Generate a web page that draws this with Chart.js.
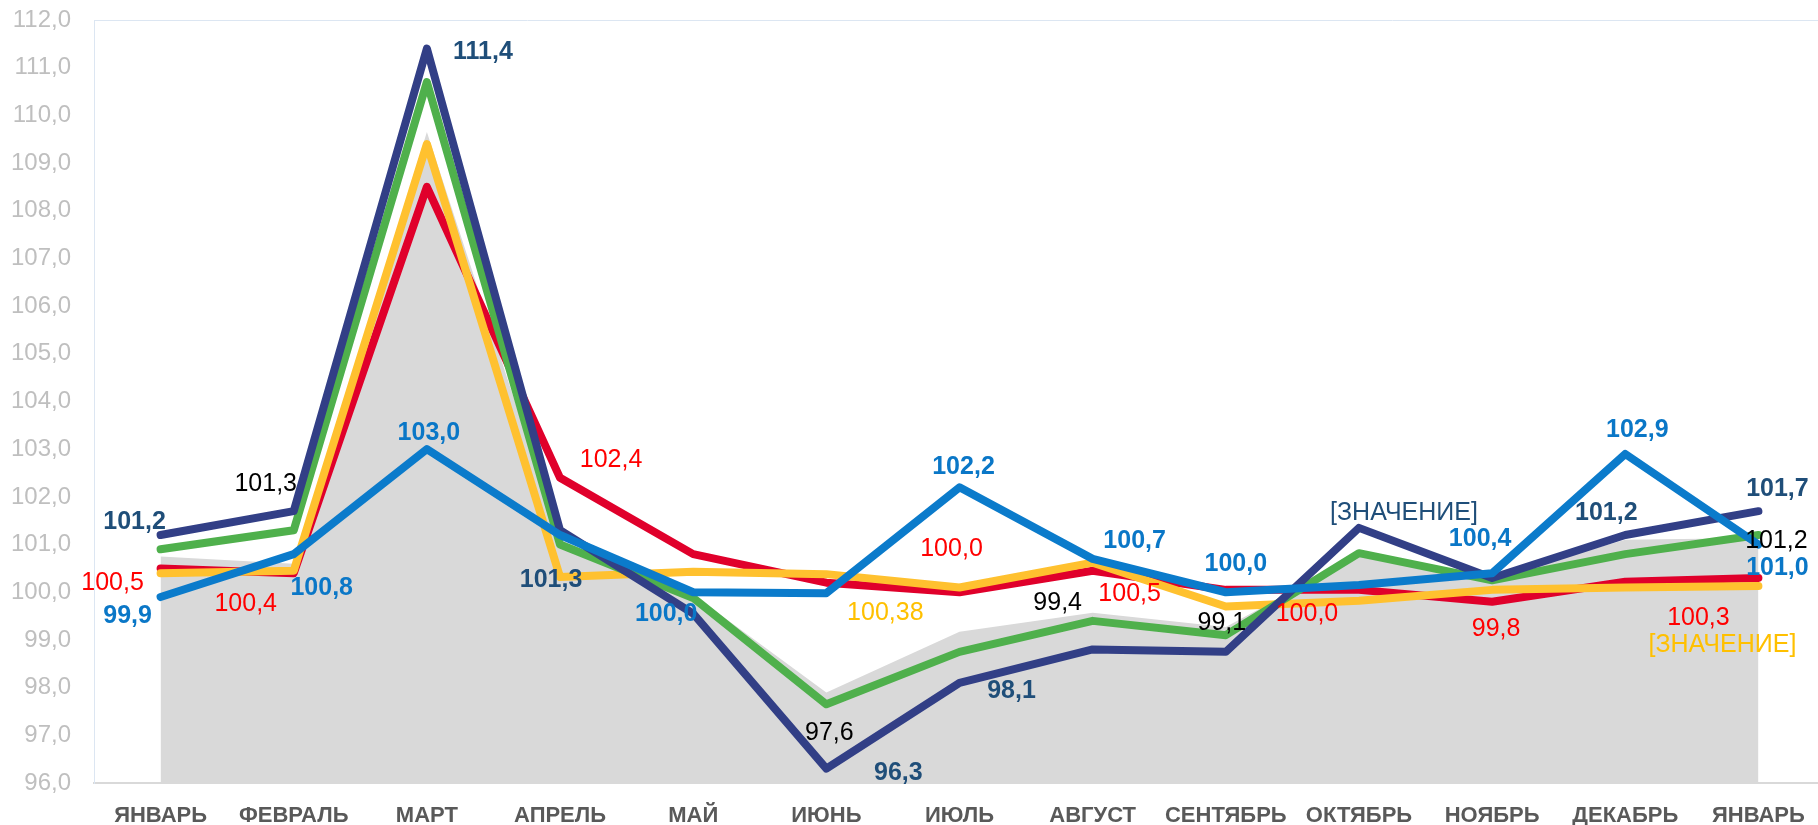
<!DOCTYPE html>
<html><head><meta charset="utf-8">
<script src="https://cdn.jsdelivr.net/npm/chart.js@4/dist/chart.umd.min.js"></script>
<style>html,body{margin:0;padding:0;overflow:hidden;background:#fff;width:1818px;height:825px}canvas{display:block}</style>
</head><body><canvas id="c" width="1825" height="825"></canvas>
<script>
// ---- data ----
const categories = ['ЯНВАРЬ','ФЕВРАЛЬ','МАРТ','АПРЕЛЬ','МАЙ','ИЮНЬ','ИЮЛЬ','АВГУСТ','СЕНТЯБРЬ','ОКТЯБРЬ','НОЯБРЬ','ДЕКАБРЬ','ЯНВАРЬ'];
const areaValues   = [100.75, 100.6, 109.65, 101.1, 99.95, 97.9, 99.17, 99.57, 99.27, 100.78, 100.3, 101.1, 101.14];
const navyValues   = [101.2, 101.7, 111.4, 101.3, 99.55, 96.3, 98.1, 98.8, 98.75, 101.35, 100.3, 101.2, 101.7];
const greenValues  = [100.9, 101.3, 110.7, 101.0, 99.88, 97.65, 98.75, 99.4, 99.1, 100.82, 100.25, 100.8, 101.2];
const redValues    = [100.5, 100.4, 108.5, 102.4, 100.8, 100.2, 100.0, 100.45, 100.05, 100.05, 99.8, 100.22, 100.3];
const yellowValues = [100.4, 100.45, 109.4, 100.32, 100.43, 100.38, 100.1, 100.62, 99.7, 99.82, 100.05, 100.1, 100.13];
const blueValues   = [99.9, 100.8, 103.0, 101.2, 100.0, 99.98, 102.2, 100.7, 100.0, 100.15, 100.4, 102.9, 101.0];

const navyLabels   = ['101,2', null, '111,4', '101,3', null, '96,3', '98,1', null, null, '[ЗНАЧЕНИЕ]', null, '101,2', '101,7'];
const greenLabels  = [null, '101,3', null, null, null, '97,6', null, '99,4', '99,1', null, null, null, '101,2'];
const redLabels    = ['100,5', '100,4', null, '102,4', null, null, '100,0', '100,5', null, '100,0', '99,8', null, '100,3'];
const yellowLabels = [null, null, null, null, null, '100,38', null, null, null, null, null, null, '[ЗНАЧЕНИЕ]'];
const blueLabels   = ['99,9', '100,8', '103,0', null, '100,0', null, '102,2', '100,7', '100,0', null, '100,4', '102,9', '101,0'];

const yMin = 96, yMax = 112, yStep = 1;

// ---- label placement / styles (not data) ----
const FONT = "'Liberation Sans', Arial, sans-serif";
const labelStyle = {
  navy:   {color:'#1F4E79', weight:'bold', offsets:{0:[-26,-15],2:[56,1],3:[-9,48],5:[72,2],6:[52,6],9:[45,-17,'normal'],11:[-19,-24],12:[19,-24]}},
  green:  {color:'#000000', weight:'normal', offsets:{1:[-28,-48],5:[3,27],7:[-35,-20],8:[-4,-14],12:[18,4]}},
  red:    {color:'#FF0000', weight:'normal', offsets:{0:[-48,13],1:[-48,29],3:[51,-20],6:[-8,-45],7:[37,21],9:[-52,22],10:[4,25],12:[-60,38]}},
  yellow: {color:'#FFC000', weight:'normal', offsets:{5:[59,37],12:[-36,57]}},
  blue:   {color:'#0A77C7', weight:'bold', offsets:{0:[-33,17],1:[28,32],2:[2,-18],4:[-27,20],6:[4,-22],7:[42,-20],8:[10,-30],10:[-12,-36],11:[12,-26],12:[19,21]}}
};
const LABEL_SIZE = 25;

const valueLabelPlugin = {
  id: 'valueLabels',
  afterDatasetsDraw(chart) {
    const ctx = chart.ctx;
    chart.data.datasets.forEach((ds, di) => {
      if (!ds.valueLabels) return;
      const st = labelStyle[ds.styleKey];
      const meta = chart.getDatasetMeta(di);
      ds.valueLabels.forEach((txt, i) => {
        if (txt == null) return;
        const pt = meta.data[i];
        const off = st.offsets[i] || [0, -20];
        const w = off[2] || st.weight;
        ctx.save();
        ctx.font = w + ' ' + LABEL_SIZE + 'px ' + FONT;
        ctx.fillStyle = st.color;
        ctx.textAlign = 'center';
        ctx.textBaseline = 'alphabetic';
        ctx.fillText(txt, pt.x + off[0], pt.y + off[1] + LABEL_SIZE * 0.358);
        ctx.restore();
      });
    });
  }
};

function lineDs(label, data, color, labels, key, order) {
  return {
    label, data, borderColor: color, backgroundColor: color, borderWidth: 8,
    pointRadius: 0, pointHoverRadius: 0, tension: 0, fill: false,
    borderCapStyle: 'round', borderJoinStyle: 'round',
    valueLabels: labels, styleKey: key, order
  };
}

new Chart(document.getElementById('c'), {
  type: 'line',
  data: {
    labels: categories,
    datasets: [
      lineDs('blue', blueValues, '#0B7BCB', blueLabels, 'blue', 0),
      lineDs('navy', navyValues, '#323F86', navyLabels, 'navy', 1),
      lineDs('green', greenValues, '#4FB04C', greenLabels, 'green', 2),
      lineDs('yellow', yellowValues, '#FFC12F', yellowLabels, 'yellow', 3),
      lineDs('red', redValues, '#E0002B', redLabels, 'red', 4),
      {label:'area', data: areaValues, borderWidth: 0, pointRadius: 0, tension: 0,
       fill: 'start', backgroundColor: '#D9D9D9', borderColor: 'rgba(0,0,0,0)', order: 5}
    ]
  },
  options: {
    responsive: false, animation: false, devicePixelRatio: 1,
    layout: {padding: {top: 20, left: 0, right: 0, bottom: 0}},
    plugins: {legend: {display: false}, tooltip: {enabled: false}},
    scales: {
      x: {
        type: 'category', offset: true,
        grid: {display: false},
        border: {display: true, color: '#D9D9D9', width: 2},
        ticks: {color: '#595959', font: {family: FONT, size: 22, weight: 'bold'}, padding: 12, maxRotation: 0, autoSkip: false},
        afterFit(s) { s.height = 42; s.paddingLeft = 0; s.paddingRight = 0; }
      },
      y: {
        min: yMin, max: yMax,
        grid: {display: true, drawTicks: false, lineWidth: 1,
               color: c => (c.tick && c.tick.value === yMax) ? '#DCE6F2' : 'rgba(0,0,0,0)'},
        border: {display: true, color: '#DCE6F2', width: 1},
        ticks: {stepSize: yStep, color: '#BFBFBF', font: {family: FONT, size: 24}, padding: 23,
                callback: v => v.toFixed(1).replace('.', ',')},
        afterFit(s) { s.width = 94; s.paddingTop = 0; s.paddingBottom = 0; }
      }
    }
  },
  plugins: [valueLabelPlugin]
});
</script>
</body></html>
